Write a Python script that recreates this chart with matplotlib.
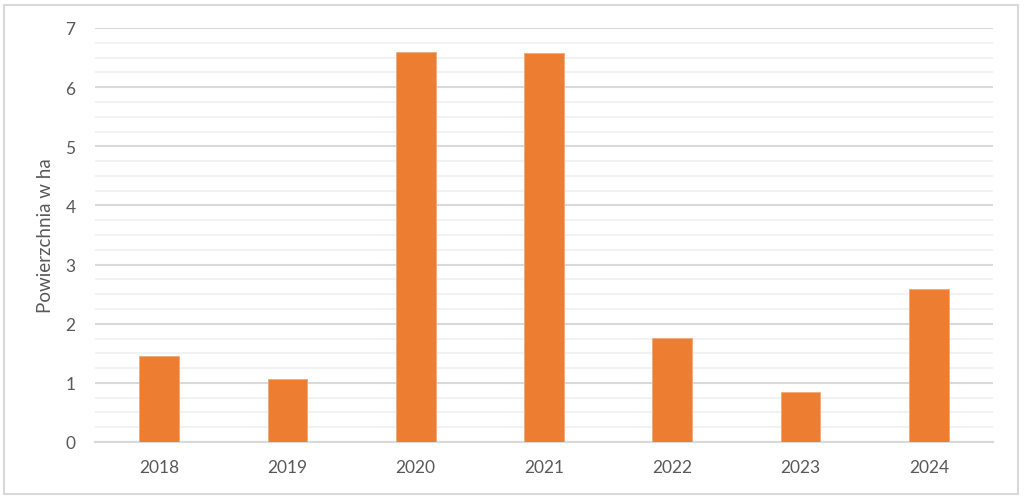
import matplotlib
matplotlib.use("Agg")
import matplotlib.pyplot as plt
from matplotlib.patches import Rectangle
import numpy as np

years = ["2018", "2019", "2020", "2021", "2022", "2023", "2024"]
values = [1.45, 1.07, 6.59, 6.58, 1.76, 0.85, 2.59]
y_ticks = [0, 1, 2, 3, 4, 5, 6, 7]
y_label = "Powierzchnia w ha"

plt.rcParams['font.family'] = ['Lato', 'DejaVu Sans']
text_color = "#595959"

fig = plt.figure(figsize=(10.24, 5.02), dpi=100)
fig.patch.set_facecolor("white")
fig.patches.append(Rectangle((4/1024, 7/502), 1014/1024, 489/502, transform=fig.transFigure,
                             fill=False, edgecolor="#d9d9d9", linewidth=1.5))

ax = fig.add_axes([95/1024, 1 - 443/502, 898/1024, 414/502])
x = np.arange(len(years))
ax.bar(x, values, width=0.31, color="#ED7D31", edgecolor="#F4A876", linewidth=0.6, zorder=3)

ax.set_xlim(-0.5, len(years) - 0.5)
ax.set_ylim(0, 7)
ax.set_yticks(y_ticks)
ax.set_yticks(np.arange(0, 7.01, 0.25), minor=True)
ax.set_xticks(x)
ax.set_xticklabels(years)
ax.grid(axis='y', which='major', color="#d9d9d9", linewidth=1.5, zorder=1)
ax.grid(axis='y', which='minor', color="#f2f2f2", linewidth=1.5, zorder=0)
ax.tick_params(axis='both', which='both', length=0, colors=text_color, labelsize=12.5)
ax.tick_params(axis='y', pad=14)
ax.tick_params(axis='x', pad=12)
for s in ["top", "right", "left"]:
    ax.spines[s].set_visible(False)
ax.spines["bottom"].set_color("#d9d9d9")
ax.spines["bottom"].set_linewidth(1.5)
ax.set_ylabel(y_label, color=text_color, fontsize=13.5, labelpad=8)

fig.savefig("out.png", dpi=100)
